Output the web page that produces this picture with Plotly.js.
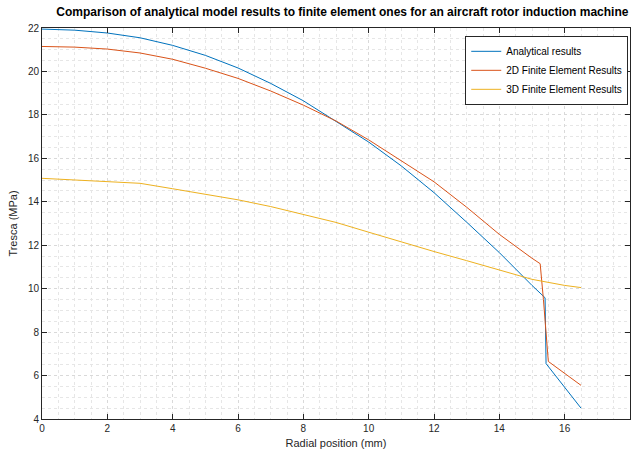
<!DOCTYPE html>
<html>
<head>
<meta charset="utf-8">
<script src="https://cdn.plot.ly/plotly-3.0.1.min.js"></script>
<style>html,body{margin:0;padding:0;background:#fff;}#chart{width:634px;height:453px;}</style>
</head>
<body>
<div id="chart"></div>
<script>
// Analytical results
var analyticalX = [0, 1, 2, 3, 4, 5, 6, 7, 8, 9, 10, 11, 12, 13, 14, 15, 15.4, 15.43, 16.5];
var analyticalY = [21.95, 21.9, 21.77, 21.55, 21.2, 20.74, 20.16, 19.45, 18.65, 17.7, 16.75, 15.65, 14.42, 13.06, 11.66, 10.15, 9.58, 6.55, 4.5];
// 2D finite element results
var fe2dX = [0, 1, 2, 3, 4, 5, 6, 7, 8, 9, 10, 11, 12, 13, 14, 15, 15.25, 15.35, 15.5, 16.5];
var fe2dY = [21.15, 21.12, 21.03, 20.85, 20.56, 20.15, 19.68, 19.1, 18.45, 17.72, 16.85, 15.88, 14.92, 13.75, 12.5, 11.4, 11.15, 9.5, 6.65, 5.55];
// 3D finite element results
var fe3dX = [0, 1, 2, 3, 4, 5, 6, 7, 8, 9, 10, 11, 12, 13, 14, 15, 16, 16.5];
var fe3dY = [15.08, 15.0, 14.93, 14.85, 14.6, 14.34, 14.09, 13.78, 13.43, 13.05, 12.6, 12.14, 11.71, 11.29, 10.87, 10.43, 10.15, 10.05];

var seriesNames = ["Analytical results", "2D Finite Element Results", "3D Finite Element Results"];
var titleText = "Comparison of analytical model results to finite element ones for an aircraft rotor induction machine";
var xTitle = "Radial position (mm)";
var yTitle = "Tresca (MPa)";

var traces = [
  {x: analyticalX, y: analyticalY, name: seriesNames[0], mode: "lines", line: {color: "#0072BD", width: 1}},
  {x: fe2dX, y: fe2dY, name: seriesNames[1], mode: "lines", line: {color: "#D95319", width: 1}},
  {x: fe3dX, y: fe3dY, name: seriesNames[2], mode: "lines", line: {color: "#EDB120", width: 1}}
];

var axisCommon = {
  showline: true, linecolor: "#262626", linewidth: 1, mirror: "ticks",
  ticks: "inside", ticklen: 5, tickcolor: "#262626",
  showgrid: true, gridcolor: "#d9d9d9", griddash: "dot", gridwidth: 1,
  zeroline: false,
  tickfont: {family: "Liberation Sans, Arial, sans-serif", size: 10, color: "#262626"},
  minor: {dtick: 0.5, showgrid: true, gridcolor: "#e6e6e6", griddash: "dot", gridwidth: 1, ticks: ""}
};

var layout = {
  width: 634, height: 453,
  margin: {l: 42, r: 4, t: 28, b: 34},
  paper_bgcolor: "#ffffff", plot_bgcolor: "#ffffff",
  font: {family: "Liberation Sans, Arial, sans-serif", color: "#262626"},
  title: {text: "<b>" + titleText + "</b>", font: {size: 12, color: "#000000"}, x: 0.54, xanchor: "center", y: 0.974, yanchor: "middle", yref: "container"},
  xaxis: Object.assign({}, axisCommon, {range: [0, 18], dtick: 2, tick0: 0,
    title: {text: xTitle, font: {size: 11, color: "#262626"}, standoff: 6}}),
  yaxis: Object.assign({}, axisCommon, {range: [4, 22], dtick: 2, tick0: 0,
    title: {text: yTitle, font: {size: 11, color: "#262626"}, standoff: 8}}),
  showlegend: true,
  legend: {x: 0.997, xanchor: "right", y: 0.98, yanchor: "top",
    bgcolor: "#ffffff", bordercolor: "#262626", borderwidth: 1,
    font: {size: 10, color: "#000000"}, tracegroupgap: 0, itemwidth: 30}
};

Plotly.newPlot("chart", traces, layout, {displayModeBar: false, staticPlot: true});
</script>
</body>
</html>
